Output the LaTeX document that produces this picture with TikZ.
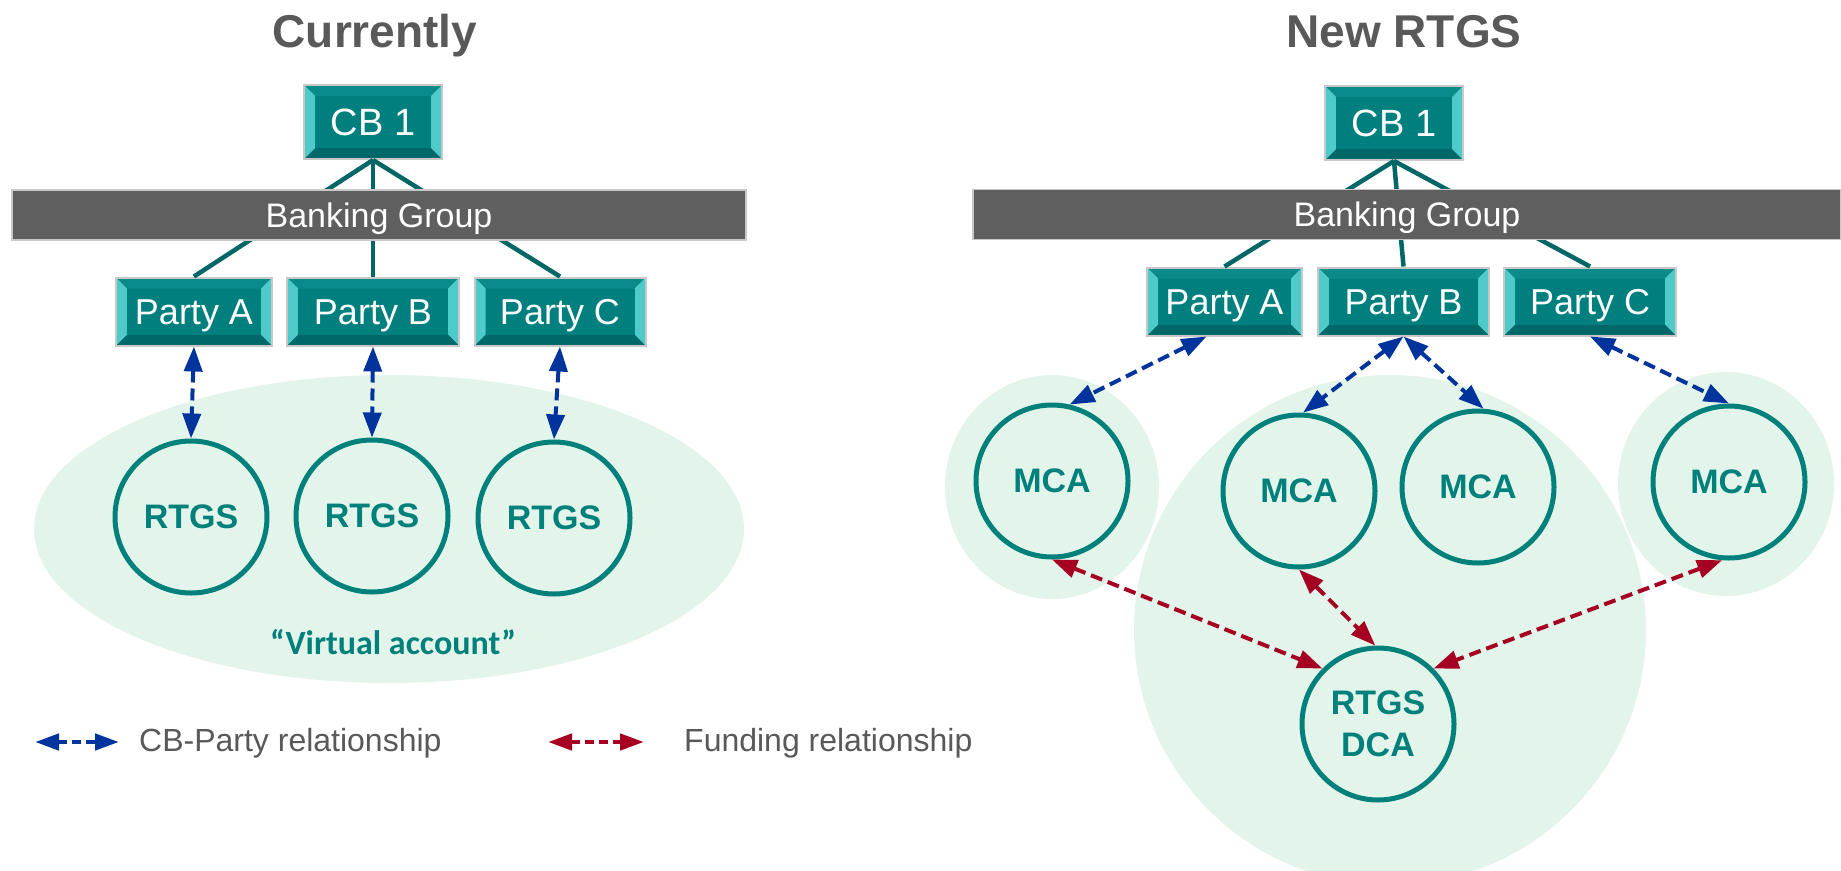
\documentclass[tikz,border=0pt]{standalone}
\usepackage{fontspec}
\setmainfont{Liberation Sans}
\newfontfamily\calibrifont{Carlito}
\usetikzlibrary{arrows.meta,calc}
\definecolor{tealbox}{HTML}{007F7F}
\definecolor{tealtop}{HTML}{0A8A8A}
\definecolor{tealbot}{HTML}{006868}
\definecolor{bevlight}{HTML}{4FCACA}
\definecolor{boxborder}{HTML}{C8C8C8}
\definecolor{tealc}{HTML}{00807B}
\definecolor{connc}{HTML}{006666}
\definecolor{barc}{HTML}{5F5F5F}
\definecolor{blobc}{HTML}{E3F5EB}
\definecolor{greytxt}{HTML}{595959}
\definecolor{bluearr}{HTML}{00339C}
\definecolor{redarr}{HTML}{A50021}
\tikzset{
  bevbox/.style={draw=boxborder, line width=2pt, fill=tealbox, text=white,
    inner sep=0pt, text depth=0pt,
    path picture={
      \fill[tealtop] (path picture bounding box.north west) -- (path picture bounding box.north east)
        -- ([xshift=-11pt,yshift=-11pt]path picture bounding box.north east)
        -- ([xshift=11pt,yshift=-11pt]path picture bounding box.north west) -- cycle;
      \fill[tealbot] (path picture bounding box.south west) -- (path picture bounding box.south east)
        -- ([xshift=-11pt,yshift=11pt]path picture bounding box.south east)
        -- ([xshift=11pt,yshift=11pt]path picture bounding box.south west) -- cycle;
      \fill[bevlight] (path picture bounding box.north west) -- (path picture bounding box.south west)
        -- ([xshift=11pt,yshift=11pt]path picture bounding box.south west)
        -- ([xshift=11pt,yshift=-11pt]path picture bounding box.north west) -- cycle;
      \fill[bevlight] (path picture bounding box.north east) -- (path picture bounding box.south east)
        -- ([xshift=-11pt,yshift=11pt]path picture bounding box.south east)
        -- ([xshift=-11pt,yshift=-11pt]path picture bounding box.north east) -- cycle;
      \fill[tealbox] ([xshift=11pt,yshift=-11pt]path picture bounding box.north west)
        rectangle ([xshift=-11pt,yshift=11pt]path picture bounding box.south east);
    }},
  cbbox/.style={bevbox, minimum width=138pt, minimum height=74pt,
    font=\fontsize{38}{40}\selectfont, text height=27pt},
  partybox/.style={bevbox, minimum height=68pt,
    font=\fontsize{36}{40}\selectfont, text height=26pt},
  bar/.style={draw=boxborder, line width=1.5pt, fill=barc, text=white, inner sep=0pt,
    minimum height=50pt, font=\fontsize{34}{36}\selectfont, text height=24pt, text depth=0pt},
  acct/.style={circle, draw=tealc, line width=5pt, minimum size=152pt, inner sep=0pt,
    text=tealc, font=\bfseries\fontsize{34}{42}\selectfont, align=center},
  conn/.style={draw=connc, line width=4.5pt},
  blob/.style={fill=blobc},
  cbarrow/.style={draw=bluearr, line width=4pt, dash pattern=on 12pt off 6pt,
    {Triangle[width=18pt,length=25pt]}-{Triangle[width=18pt,length=25pt]}},
  fundarrow/.style={draw=redarr, line width=4pt, dash pattern=on 12pt off 6pt,
    {Triangle[width=18pt,length=25pt]}-{Triangle[width=18pt,length=25pt]}},
  legblue/.style={draw=bluearr, line width=4.5pt, dash pattern=on 9pt off 5pt,
    {Triangle[width=16pt,length=24pt]}-{Triangle[width=16pt,length=24pt]}},
  legred/.style={draw=redarr, line width=4.5pt, dash pattern=on 9pt off 5pt,
    {Triangle[width=16pt,length=24pt]}-{Triangle[width=16pt,length=24pt]}},
  title/.style={text=greytxt, font=\bfseries\fontsize{46}{50}\selectfont, anchor=base, inner sep=0pt},
  legtext/.style={text=greytxt, font=\fontsize{32}{36}\selectfont, anchor=west, inner sep=0pt, text height=23pt, text depth=0pt},
  vtext/.style={text=tealc, font=\calibrifont\bfseries\fontsize{34}{38}\selectfont, inner sep=0pt}
}
\begin{document}
\begin{tikzpicture}[x=1pt, y=-1pt]
\useasboundingbox (0,0) rectangle (1841,870);
\fill[white] (0,0) rectangle (1841,870);

% background blobs
\begin{scope}
  \clip (0,0) rectangle (1841,870);
  \fill[blob] (389,529) ellipse [x radius=355, y radius=154];
  \fill[blob] (1052,487) ellipse [x radius=107, y radius=112];
  \fill[blob] (1726,484) ellipse [x radius=108, y radius=112];
  \fill[blob] (1390,630) ellipse [x radius=256, y radius=255];
\end{scope}

% titles
\node[title] (t1) at (375,47) {Currently};
\node[title] (t2) at (1404,47) {New RTGS};

% ---------- left: currently ----------
\node[cbbox] (cbl) at (373,122) {CB 1};
\node[partybox, minimum width=156pt] (pal) at (194,311.5) {Party A};
\node[partybox, minimum width=172pt] (pbl) at (373,311.5) {Party B};
\node[partybox, minimum width=171pt] (pcl) at (560,311.5) {Party C};
\draw[conn] (cbl.south) -- (pal.north);
\draw[conn] (cbl.south) -- (pbl.north);
\draw[conn] (cbl.south) -- (pcl.north);
\node[bar, minimum width=734pt] (bgl) at (379,215) {Banking Group};

\node[acct] (r1) at (191,517) {RTGS};
\node[acct] (r2) at (372,516) {RTGS};
\node[acct] (r3) at (554,518) {RTGS};
\node[vtext] (va) at (393,642) {“Virtual account”};

\draw[cbarrow] (pal.south) -- (r1.north);
\draw[cbarrow] (pbl.south) -- (r2.north);
\draw[cbarrow] (pcl.south) -- (r3.north);

% ---------- right: new RTGS ----------
\node[cbbox] (cbr) at (1394,123) {CB 1};
\node[partybox, minimum width=155pt] (par) at (1224.5,301.5) {Party A};
\node[partybox, minimum width=171pt] (pbr) at (1403.5,301.5) {Party B};
\node[partybox, minimum width=172pt] (pcr) at (1590,301.5) {Party C};
\draw[conn] (cbr.south) -- (par.north);
\draw[conn] (cbr.south) -- (pbr.north);
\draw[conn] (cbr.south) -- (pcr.north);
\node[bar, minimum width=868pt] (bgr) at (1407,214.5) {Banking Group};

\node[acct] (m1) at (1052,481) {MCA};
\node[acct] (m2) at (1299,491) {MCA};
\node[acct] (m3) at (1478,487) {MCA};
\node[acct] (m4) at (1729,482) {MCA};
\node[acct] (dca) at (1378,724) {RTGS\\DCA};

\draw[cbarrow] ([xshift=-18pt]par.south) -- (m1.77);
\draw[cbarrow] (pbr.south) -- (m2.87);
\draw[cbarrow] (pbr.south) -- (m3.86);
\draw[cbarrow] (pcr.south) -- (m4.north);

\draw[fundarrow] (m1.south) -- (dca.135);
\draw[fundarrow] (m2.south) -- (dca.92);
\draw[fundarrow] (m4.265) -- (dca.45);

% ---------- legend ----------
\coordinate (lb1) at (35,742);
\coordinate (lb2) at (119,742);
\draw[legblue] (lb1) -- (lb2);
\node[legtext] (lt1) at (139,740) {CB-Party relationship};
\coordinate (lr1) at (548,742);
\coordinate (lr2) at (644,742);
\draw[legred] (lr1) -- (lr2);
\node[legtext] (lt2) at (684,740) {Funding relationship};
\end{tikzpicture}
\end{document}
